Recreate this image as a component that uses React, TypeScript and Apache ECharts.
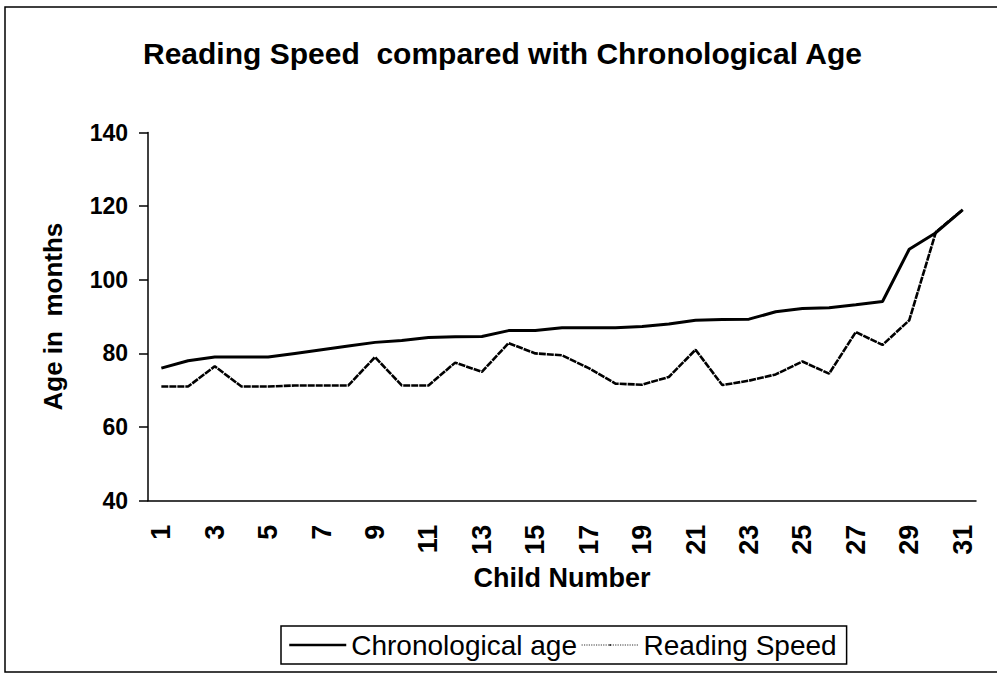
import React, { useEffect, useRef } from "react";
import * as echarts from "echarts";

const childNumbers: string[] = Array.from({ length: 31 }, (_, i) => String(i + 1));
const chronologicalAge: number[] = [
  76, 78, 79, 79, 79, 80, 81, 82, 83, 83.5, 84.3, 84.5, 84.6, 86.2, 86.2, 87,
  87, 87, 87.3, 88, 89, 89.2, 89.3, 91.3, 92.2, 92.4, 93.2, 94.1, 108.3, 112.8, 119,
];
const readingSpeed: number[] = [
  71, 71, 76.5, 71, 71, 71.3, 71.3, 71.3, 79, 71.3, 71.3, 77.5, 75, 82.8, 80,
  79.5, 76, 71.8, 71.5, 73.6, 81, 71.4, 72.6, 74.3, 77.8, 74.5, 85.8, 82.3, 89, 113, 119,
];
const yTicks = { min: 40, max: 140, interval: 20 };

const FONT = "'Liberation Sans', Arial, sans-serif";

export default function App() {
  const ref = useRef<HTMLDivElement>(null);
  useEffect(() => {
    if (!ref.current) return;
    const chart = echarts.init(ref.current, null, { renderer: "svg" });
    chart.setOption({
      animation: false,
      backgroundColor: "#ffffff",
      textStyle: { fontFamily: FONT, color: "#000" },
      title: {
        text: "Reading Speed  compared with Chronological Age",
        left: 143,
        top: 38,
        padding: 0,
        textStyle: { fontFamily: FONT, fontSize: 30, fontWeight: "bold", color: "#000" },
      },
      graphic: [
        {
          type: "polyline",
          shape: { points: [[1100, 7], [5, 7], [5, 672], [1100, 672]] },
          style: { stroke: "#000", lineWidth: 1.5, fill: "none" },
          silent: true,
        },
      ],
      legend: {
        left: 281,
        top: 626,
        padding: [5, 10, 5, 7],
        borderColor: "#000",
        borderWidth: 1.5,
        itemWidth: 57,
        itemHeight: 2,
        itemGap: 4,
        textStyle: { fontFamily: FONT, fontSize: 28, color: "#000" },
        data: [
          { name: "Chronological age", lineStyle: { width: 2.5, type: "solid", color: "#000" } },
          { name: "Reading Speed", lineStyle: { width: 1.2, type: "dotted", color: "#333" } },
        ],
      },
      grid: { left: 148, top: 132.5, right: 21, bottom: 174.3, containLabel: false },
      xAxis: {
        type: "category",
        data: childNumbers,
        boundaryGap: true,
        name: "Child Number",
        nameLocation: "middle",
        nameGap: 64,
        nameTextStyle: { fontFamily: FONT, fontSize: 27, fontWeight: "bold", color: "#000" },
        axisLine: { lineStyle: { color: "#000", width: 1.5 } },
        axisTick: { interval: 0, length: 7, lineStyle: { color: "#000", width: 1.5 } },
        axisLabel: {
          interval: 1,
          rotate: 90,
          margin: 24,
          fontFamily: FONT,
          fontSize: 27,
          fontWeight: "bold",
          color: "#000",
        },
        splitLine: { show: false },
      },
      yAxis: {
        type: "value",
        min: yTicks.min,
        max: yTicks.max,
        interval: yTicks.interval,
        name: "Age in  months",
        nameLocation: "middle",
        nameGap: 82,
        nameTextStyle: { fontFamily: FONT, fontSize: 26, fontWeight: "bold", color: "#000" },
        axisLine: { show: true, lineStyle: { color: "#000", width: 1.5 } },
        axisTick: { show: true, length: 9, lineStyle: { color: "#000", width: 1.5 } },
        axisLabel: { margin: 20, fontFamily: FONT, fontSize: 23, fontWeight: "bold", color: "#000" },
        splitLine: { show: false },
      },
      series: [
        {
          name: "Chronological age",
          type: "line",
          data: chronologicalAge,
          symbol: "none",
          lineStyle: { color: "#000", width: 3 },
          itemStyle: { color: "#000" },
        },
        {
          name: "Reading Speed",
          type: "line",
          data: readingSpeed,
          symbol: "none",
          lineStyle: { color: "#000", width: 2.6, type: [7, 1] },
          itemStyle: { color: "#000" },
        },
      ],
    });
    return () => chart.dispose();
  }, []);
  return (
    <div
      ref={ref}
      style={{ position: "fixed", left: 0, top: 0, width: 997, height: 675, background: "#fff" }}
    />
  );
}
